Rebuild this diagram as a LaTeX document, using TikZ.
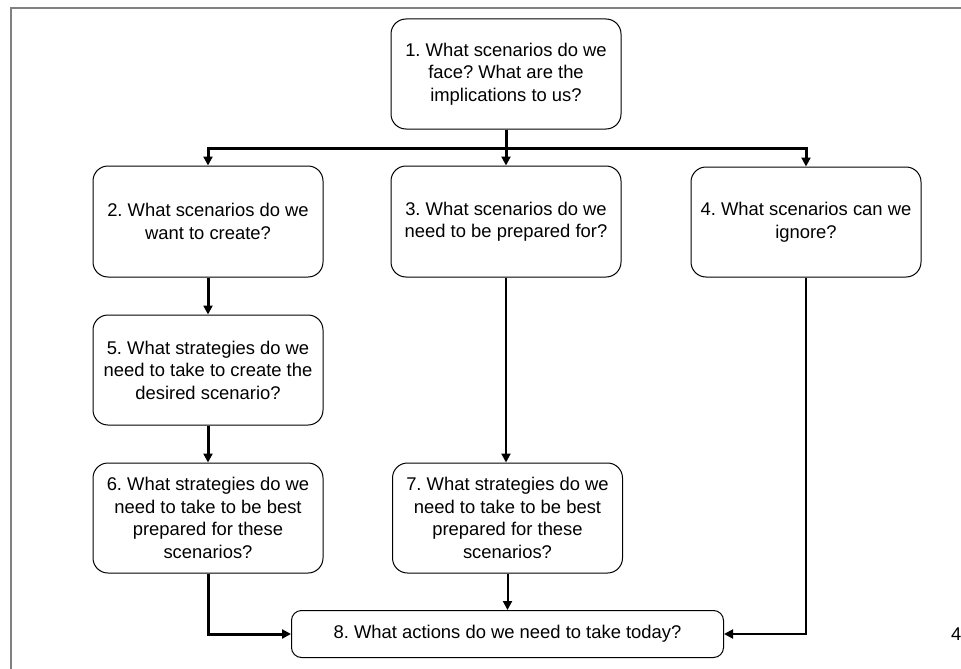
\documentclass[tikz,border=0pt]{standalone}
\usepackage{fontspec}
\setmainfont{Liberation Sans}
\usetikzlibrary{arrows.meta}
\frenchspacing
\begin{document}
\begin{tikzpicture}[x=1pt,y=-1pt,
  box/.style={draw=black, line width=1pt, rounded corners=15pt,
    minimum width=230pt, minimum height=110pt, align=center,
    font=\fontsize{18.4}{22.5}\selectfont, inner sep=0pt, text=black},
  heavy/.style={line width=3pt},
  heavyarrow/.style={line width=3pt, -{Triangle[length=9pt,width=9pt]}},
  lightarrow/.style={line width=2pt, -{Triangle[length=9pt,width=9pt]}},
  frameline/.style={draw=gray, line width=1.5pt}]
\useasboundingbox (0,0) rectangle (961,669);
\draw[frameline] (11,669) -- (11,8) -- (961,8);

\node[box] (n1) at (506,74) {1. What scenarios do we\\face? What are the\\implications to us?};
\node[box, minimum height=111pt] (n2) at (208,221.5) {2. What scenarios do we\\want to create?};
\node[box, minimum height=111pt] (n3) at (506,221.5) {3. What scenarios do we\\need to be prepared for?};
\node[box, minimum height=110pt] (n4) at (806,222) {4. What scenarios can we\\ignore?};
\node[box] (n5) at (208,370) {5. What strategies do we\\need to take to create the\\desired scenario?};
\node[box] (n6) at (208,518) {6. What strategies do we\\need to take to be best\\prepared for these\\scenarios?};
\node[box] (n7) at (507.5,518) {7. What strategies do we\\need to take to be best\\prepared for these\\scenarios?};
\node[box, minimum width=432pt, minimum height=47pt, rounded corners=10pt] (n8) at (507.5,634) {8. What actions do we need to take today?};
\node[font=\fontsize{18.4}{22.5}\selectfont, inner sep=0pt, anchor=west] (pg) at (951,634) {4};

\coordinate (bar) at (506,148);
\draw[heavy] (n1.south) -- (bar);
\draw[heavyarrow] (bar) -| (n2.north);
\draw[heavyarrow] (bar) -| (n4.north);
\draw[heavyarrow] (bar) -- (n3.north);
\draw[heavyarrow] (n2.south) -- (n5.north);
\draw[heavyarrow] (n5.south) -- (n6.north);
\draw[lightarrow] (n3.south) -- (n3.south |- n7.north);
\draw[heavyarrow] (n6.south) |- (n8.west);
\draw[lightarrow] (n7.south -| n8.north) -- (n8.north);
\draw[lightarrow] (n4.south) |- (n8.east);
\end{tikzpicture}
\end{document}
